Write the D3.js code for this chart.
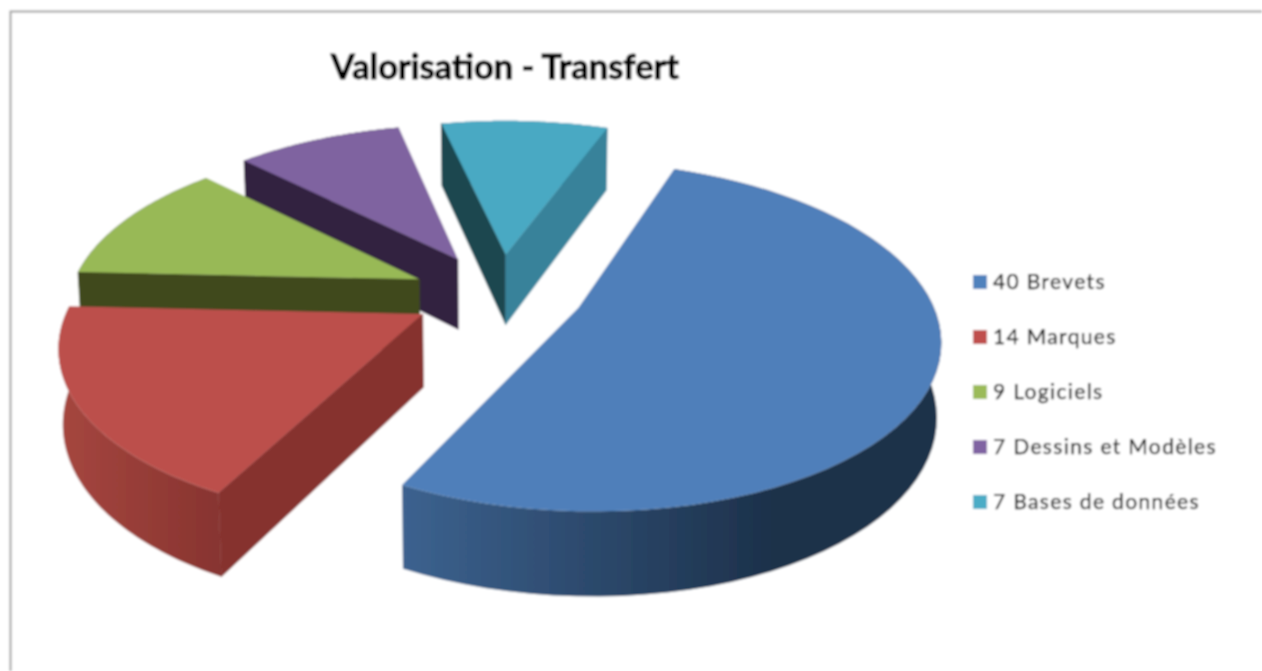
<!DOCTYPE html>
<html>
<head>
<meta charset="utf-8">
<script src="https://cdn.jsdelivr.net/npm/d3@7/dist/d3.min.js"></script>
<style>
  html, body { margin: 0; padding: 0; background: #fff; }
  svg { display: block; }
</style>
</head>
<body>
<div id="chart"></div>
<script>
// Chart data
const categories = ["Brevets", "Marques", "Logiciels", "Dessins et Modèles", "Bases de données"];
const values = [40, 14, 9, 7, 7];
const chartTitle = "Valorisation - Transfert";

// Colours per slice
const topColors = ["#4f7fba", "#bc4f4b", "#98b957", "#7f63a0", "#4aa9c3"];
const swatchColors = ["#4f81bd", "#c0504d", "#9bbb59", "#8064a2", "#4bacc6"];
const wallStartColors = ["#2b4a70", "#86322f", "#3f4a1f", "#30243f", "#1d4650"];
const wallEndColors = ["#2b4a70", "#86322f", "#3f4a1f", "#30243f", "#37829a"];
const rimLeft = ["#3c628f", "#a5463f", "#3f4a1f", "#30243f", "#1d4650"];
const rimRight = ["#1c3049", "#86332f", "#3f4a1f", "#30243f", "#37829a"];

const width = 1262, height = 671;

// 3D view of the pie: disc coordinates go through a small perspective
const view = { cx: 497, cy: 290, rx: 350, ry: 165, k: 0.16, depth: 72, shrink: 0.99 };
const explode = [0.25, 0.25, 0.24, 0.22, 0.21];
// small screen corrections so each slice lands where Excel put it
const nudgeX = [0, 3, -2, -3, 4];
const nudgeY = [1, 3, 5, 0, -2];
const firstAngle = 20.2 * Math.PI / 180;

function project(X, Y, z) {
    let w = 1 - view.k * Y;
    let s = z ? view.shrink : 1;
    return [
        view.cx + s * view.rx * X / w,
        view.cy + s * view.ry * Y / w + (z ? view.depth / w : 0)
    ];
}

let svg = d3.select("#chart").append("svg")
    .attr("width", width)
    .attr("height", height);

let defs = svg.append("defs");
defs.append("filter").attr("id", "soft")
    .attr("x", 0).attr("y", 0).attr("width", 1).attr("height", 1)
    .append("feGaussianBlur").attr("stdDeviation", 0.8);

let root = svg.append("g").attr("filter", "url(#soft)");
root.append("rect").attr("width", width).attr("height", height).attr("fill", "#fff");

// frame of the chart area, open at right and bottom
root.append("path")
    .attr("d", `M10.5,${height} V11.5 H${width}`)
    .attr("fill", "none")
    .attr("stroke", "#a0a0a0")
    .attr("stroke-width", 2);

let pie = d3.pie().sort(null)
    .startAngle(firstAngle)
    .endAngle(firstAngle + 2 * Math.PI);
let slices = pie(values);

let line = d3.line();

function drawSlice(d, i) {
    let mid = (d.startAngle + d.endAngle) / 2;
    let ox = explode[i] * Math.sin(mid);
    let oy = -explode[i] * Math.cos(mid);
    let steps = d3.range(0, 61).map(n => d.startAngle + (d.endAngle - d.startAngle) * n / 60);
    let rimTop = steps.map(a => project(ox + Math.sin(a), oy - Math.cos(a), false));
    let rimBottom = steps.map(a => project(ox + Math.sin(a), oy - Math.cos(a), true));
    let apexTop = project(ox, oy, false);
    let apexBottom = project(ox, oy, true);

    let g = root.append("g")
        .attr("class", "slice")
        .attr("transform", `translate(${nudgeX[i]}, ${nudgeY[i]})`);

    // rim with a horizontal shading
    let gradId = "rim" + i;
    let xs = rimBottom.map(p => p[0]);
    let grad = defs.append("linearGradient").attr("id", gradId)
        .attr("gradientUnits", "userSpaceOnUse")
        .attr("x1", d3.min(xs)).attr("x2", i === 0 ? 780 : rimBottom[0][0] + 5)
        .attr("y1", 0).attr("y2", 0);
    grad.append("stop").attr("offset", 0).attr("stop-color", rimLeft[i]);
    grad.append("stop").attr("offset", 1).attr("stop-color", rimRight[i]);

    g.append("path")
        .attr("d", line(rimTop.concat(rimBottom.slice().reverse())) + "Z")
        .attr("fill", `url(#${gradId})`);

    // flat walls, only the ones turned to the viewer
    if (rimTop[0][0] < apexTop[0]) {
        g.append("path")
            .attr("d", line([apexTop, rimTop[0], rimBottom[0], apexBottom]) + "Z")
            .attr("fill", wallStartColors[i])
            .attr("stroke", wallStartColors[i])
            .attr("stroke-width", 0.6);
    }
    if (rimTop[60][0] > apexTop[0]) {
        g.append("path")
            .attr("d", line([apexTop, rimTop[60], rimBottom[60], apexBottom]) + "Z")
            .attr("fill", wallEndColors[i])
            .attr("stroke", wallEndColors[i])
            .attr("stroke-width", 0.6);
    }

    // top face
    g.append("path")
        .attr("d", line([apexTop].concat(rimTop)) + "Z")
        .attr("fill", topColors[i]);
}

// back slices first so the front ones cover them
[4, 3, 2, 1, 0].forEach(i => drawSlice(slices[i], i));

// Title
root.append("text")
    .attr("x", 505)
    .attr("y", 78.5)
    .attr("text-anchor", "middle")
    .attr("font-family", "Lato, sans-serif")
    .attr("font-weight", 700)
    .attr("font-size", 34.4)
    .attr("fill", "#000")
    .attr("stroke", "#000")
    .attr("stroke-width", 0.9)
    .text(chartTitle);

// Legend
let yLegend = d3.scalePoint().domain(categories).range([282, 502]);
let legend = root.selectAll(".legendRow")
    .data(categories)
    .enter()
    .append("g")
    .attr("class", "legendRow")
    .attr("transform", c => `translate(973, ${yLegend(c)})`);
legend.append("rect")
    .attr("y", -7).attr("width", 14).attr("height", 14)
    .attr("fill", (c, i) => swatchColors[i]);
legend.append("text")
    .attr("x", 20).attr("y", 7)
    .attr("font-family", "Lato, sans-serif")
    .attr("font-size", 21)
    .attr("letter-spacing", 1.35)
    .attr("fill", "#111")
    .attr("stroke", "#111")
    .attr("stroke-width", 0.25)
    .text((c, i) => `${values[i]} ${c}`);
</script>
</body>
</html>
